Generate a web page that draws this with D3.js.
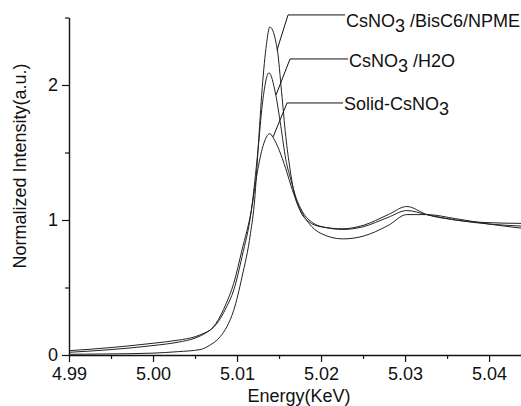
<!DOCTYPE html>
<html><head><meta charset="utf-8">
<script src="https://cdn.jsdelivr.net/npm/d3@7"></script>
<style>
html,body{margin:0;padding:0;background:#fff;}
svg{display:block;font-family:"Liberation Sans",Arial,sans-serif;}
</style></head>
<body>
<svg id="chart" width="521" height="406"></svg>
<script>
// ---- data ----
const energyA = [4.990,4.995,5.000,5.003,5.0056,5.0067,5.008,5.0088,5.0096,5.0106,5.0116,5.0121,5.0125,5.013,5.0135,5.0139,5.0148,5.0153,5.0158,5.0163,5.0168,5.0175,5.0185,5.020,5.0226,5.025,5.028,5.0302,5.0326,5.036,5.040,5.0438];
const intensityA = [0.005,0.008,0.014,0.025,0.040,0.07,0.136,0.21,0.33,0.58,0.90,1.15,1.52,1.98,2.30,2.43,2.26,1.95,1.62,1.38,1.20,1.07,0.99,0.95,0.935,0.96,1.04,1.10,1.04,1.00,0.97,0.955];

const energyB = [4.990,4.995,5.000,5.003,5.005,5.0062,5.0068,5.0075,5.0087,5.0096,5.0106,5.0117,5.0125,5.013,5.0138,5.0146,5.0152,5.0158,5.0164,5.017,5.0178,5.019,5.0205,5.0226,5.025,5.028,5.0302,5.0326,5.036,5.040,5.0438];
const intensityB = [0.02,0.04,0.07,0.095,0.125,0.16,0.185,0.225,0.35,0.48,0.73,1.07,1.52,1.85,2.09,1.93,1.70,1.45,1.30,1.17,1.06,0.98,0.945,0.93,0.95,1.02,1.07,1.04,1.00,0.98,0.975];

const energyC = [4.990,4.995,5.000,5.003,5.005,5.0062,5.0068,5.0075,5.0087,5.0096,5.0106,5.0117,5.0124,5.0131,5.0139,5.0143,5.015,5.0158,5.0166,5.0175,5.0185,5.020,5.0226,5.025,5.028,5.0302,5.0326,5.036,5.040,5.0438];
const intensityC = [0.032,0.055,0.087,0.11,0.135,0.165,0.185,0.235,0.38,0.53,0.78,1.07,1.35,1.55,1.64,1.61,1.52,1.38,1.22,1.08,0.98,0.90,0.86,0.88,0.96,1.04,1.04,1.01,0.97,0.94];

const xMajorTicks = [4.99,5.00,5.01,5.02,5.03,5.04];
const xMinorTicks = [4.995,5.005,5.015,5.025,5.035];
const yMajorTicks = [0,1,2];
const yMinorTicks = [0.5,1.5,2.5];

// label annotations (data units)
const labelNames = ["NPME","H2O","Solid"];
const labelTip = [[5.01476,2.259],[5.01464,1.926],[5.01429,1.615]];
const labelElbow = [[5.01607,2.519],[5.01631,2.193],[5.01595,1.867]];
const labelEnd = [[5.02286,2.519],[5.02321,2.193],[5.02262,1.867]];
const labelText = [[5.02286,2.430],[5.02321,2.133],[5.02262,1.815]];
const labelParts = [["CsNO","3"," /BisC6/NPME"],["CsNO","3"," /H2O"],["Solid-CsNO","3",""]];

// ---- chart ----
const svg = d3.select("#chart");
const x = d3.scaleLinear().domain([4.99,5.0438]).range([69,521]);
const y = d3.scaleLinear().domain([0,2.5]).range([355,17.5]);

const fs = "18px";

// axes
const gx = svg.append("g").attr("transform","translate(0,355)")
  .call(d3.axisBottom(x).tickValues(xMajorTicks).tickFormat(d3.format(".2f")).tickSize(7).tickSizeOuter(0).tickPadding(5));
const gxm = svg.append("g").attr("transform","translate(0,355)")
  .call(d3.axisBottom(x).tickValues(xMinorTicks).tickFormat("").tickSize(4).tickSizeOuter(0));
const gy = svg.append("g").attr("transform","translate(69,0)")
  .call(d3.axisLeft(y).tickValues(yMajorTicks).tickFormat(d3.format("d")).tickSize(7).tickSizeOuter(0).tickPadding(4));
const gym = svg.append("g").attr("transform","translate(69,0)")
  .call(d3.axisLeft(y).tickValues(yMinorTicks).tickFormat("").tickSize(4).tickSizeOuter(0));

[gx,gxm,gy,gym].forEach(g=>{
  g.selectAll("path.domain").attr("stroke","#111").attr("stroke-width",1.4);
  g.selectAll(".tick line").attr("stroke","#111").attr("stroke-width",1.2);
  g.selectAll(".tick text").attr("fill","#111").style("font-size",fs).style("font-family","'Liberation Sans',Arial,sans-serif");
});
gym.select("path.domain").remove();
gxm.select("path.domain").remove();

// axis titles
svg.append("text").attr("x",299).attr("y",402).attr("text-anchor","middle")
  .style("font-size",fs).attr("fill","#111").text("Energy(KeV)");
svg.append("text").attr("transform","translate(26,166) rotate(-90)").attr("text-anchor","middle")
  .style("font-size",fs).attr("fill","#111").text("Normalized Intensity(a.u.)");

// curves
const line = d3.line().x(d=>x(d[0])).y(d=>y(d[1])).curve(d3.curveMonotoneX);
const series = [[energyA,intensityA],[energyB,intensityB],[energyC,intensityC]];
series.forEach(([ex,iy])=>{
  svg.append("path").datum(ex.map((e,i)=>[e,iy[i]]))
    .attr("d",line).attr("fill","none").attr("stroke","#222").attr("stroke-width",1);
});

// labels with leader lines
labelNames.forEach((n,i)=>{
  const pts = [labelTip[i],labelElbow[i],labelEnd[i]];
  svg.append("path").attr("d",d3.line().x(d=>x(d[0])).y(d=>y(d[1]))(pts))
    .attr("fill","none").attr("stroke","#111").attr("stroke-width",1);
  const t = svg.append("text").attr("x",x(labelText[i][0])+1).attr("y",y(labelText[i][1]))
    .style("font-size",fs).attr("fill","#111");
  const p = labelParts[i];
  t.append("tspan").text(p[0]);
  t.append("tspan").attr("dy",5).text(p[1]);
  if (p[2]) t.append("tspan").attr("dy",-5).text(p[2]);
});
</script>
</body></html>
